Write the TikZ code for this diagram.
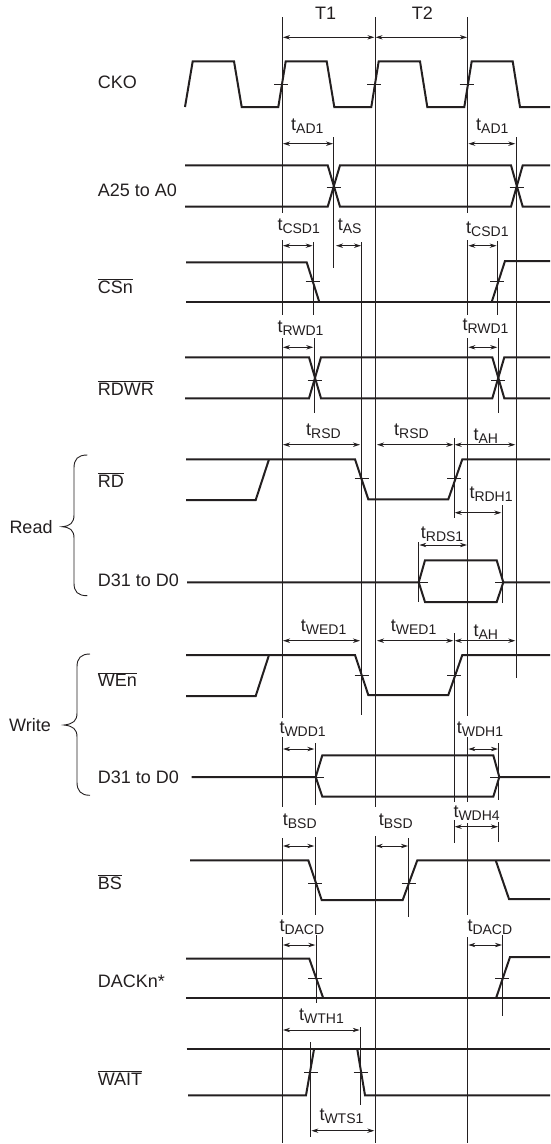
\documentclass[tikz,border=0pt]{standalone}
\usepackage{fontspec}
\setmainfont{Liberation Sans}
\usetikzlibrary{arrows.meta}
\definecolor{waveink}{HTML}{231F20}
\newcommand{\tname}[1]{t\raisebox{-3pt}{\fontsize{14}{14}\selectfont #1}}
\newcommand{\barred}[1]{$\overline{\mbox{#1}}$}
\tikzset{
  wave/.style={draw=waveink, line width=2pt, line join=miter},
  guide/.style={draw=waveink, line width=0.8pt},
  tick/.style={draw=waveink, line width=0.8pt},
  span/.style={draw=waveink, line width=0.8pt, {Stealth[length=7pt,width=4.4pt]}-{Stealth[length=7pt,width=4.4pt]}},
  lbl/.style={anchor=base west, inner sep=0pt, text=waveink, font=\fontsize{18}{20}\selectfont},
}
\begin{document}
\begin{tikzpicture}[x=1pt,y=-1pt]
  \useasboundingbox (0,0) rectangle (550,1144);
  % signal names
  \node[lbl] (cko) at (97.7,88) {CKO};
  \node[lbl] (addr) at (97.7,196) {A25 to A0};
  \node[lbl] (csn) at (97.7,293.5) {\barred{CSn}};
  \node[lbl] (rdwr) at (97.7,395) {\barred{RDWR}};
  \node[lbl] (rd) at (97.7,487) {\barred{RD}};
  \node[lbl] (dread) at (97.7,586.7) {D31 to D0};
  \node[lbl] (wen) at (97.7,686.7) {\barred{WEn}};
  \node[lbl] (dwrite) at (97.7,783) {D31 to D0};
  \node[lbl] (bs) at (97.7,889) {\barred{BS}};
  \node[lbl] (dackn) at (97.7,987) {DACKn*};
  \node[lbl] (waitn) at (97.7,1085) {\barred{WAIT}};
  \node[lbl] (read) at (9.3,533) {Read};
  \node[lbl] (write) at (9,731.7) {Write};
  % braces
  \draw[guide, line width=0.9pt] (87.3,455) .. controls (78,455) and (74,459) .. (74,468) -- (74,515)
    .. controls (74,523) and (70,526) .. (62.3,526.7) .. controls (70,527.5) and (74,530) .. (74,538)
    -- (74,583) .. controls (74,592) and (78,595.7) .. (87.3,595.7);
  \draw[guide, line width=0.9pt] (90,654) .. controls (81,654) and (77,658) .. (77,667) -- (77,713)
    .. controls (77,721) and (73,724) .. (64,725) .. controls (73,726) and (77,729) .. (77,737)
    -- (77,782) .. controls (77,791) and (81,795.3) .. (90,795.3);
  % clock cycles
  \node[lbl] (tone) at (315,19.3) {T1};
  \node[lbl] (ttwo) at (411.7,19.3) {T2};
  \draw[span] (283,37.3) -- (374.4,37.3);
  \draw[span] (375.6,37.3) -- (467,37.3);
  % long guides
  \draw[guide] (282.3,17) -- (282.3,213) (282.3,240) -- (282.3,315) (282.3,338) -- (282.3,718)
    (282.3,737) -- (282.3,807) (282.3,838) -- (282.3,915) (282.3,937) -- (282.3,1143);
  \draw[guide] (375,17) -- (375,807) (375,836) -- (375,1143);
  \draw[guide] (467.7,17) -- (467.7,213) (467.7,240) -- (467.7,315) (467.7,338) -- (467.7,716)
    (467.7,737) -- (467.7,802) (467.7,823) -- (467.7,915) (467.7,937) -- (467.7,1143);
  % short guides
  \draw[guide] (333.7,137) -- (333.7,268) (516,137) -- (516,678);
  \draw[guide] (313.3,242) -- (313.3,315) (497.3,241) -- (497.3,315);
  \draw[guide] (314,338) -- (314,413) (498,338) -- (498,413);
  \draw[guide] (361.7,242) -- (361.7,715);
  \draw[guide] (454,438) -- (454,518) (502,505) -- (502,603) (418.7,542) -- (418.7,602);
  \draw[guide] (454,633) -- (454,802) (454,820) -- (454,843);
  \draw[guide] (315,743) -- (315,805) (498.7,743) -- (498.7,800) (498.7,822) -- (498.7,842);
  \draw[guide] (315,837) -- (315,915) (408.7,838) -- (408.7,917);
  \draw[guide] (316,935) -- (316,1003) (502.7,935) -- (502.7,1016);
  \draw[guide] (360.3,1027) -- (360.3,1105) (310.7,1042) -- (310.7,1137);
  % CKO
  \draw[wave] (185,107) -- (192.7,61.3) -- (234,61.3) -- (241.7,107) -- (278.3,107) -- (285.7,61.3)
    -- (326.7,61.3) -- (334.3,107) -- (371.3,107) -- (378.7,61.3) -- (420,61.3) -- (427.3,107)
    -- (464.3,107) -- (471.7,61.3) -- (512.7,61.3) -- (520,107) -- (550,107);
  \draw[tick] (274.3,84) -- (288.3,84) (367,84) -- (381,84) (459.7,84) -- (473.7,84);
  % A25 to A0
  \node[lbl] (tadone) at (291,130) {\tname{AD1}};
  \node[lbl] (tadtwo) at (476,130) {\tname{AD1}};
  \draw[span] (283,143.7) -- (333,143.7);
  \draw[span] (468.4,143.7) -- (515.3,143.7);
  \draw[wave] (185,165.3) -- (327.7,165.3) -- (340,206.7) -- (511,206.7) -- (522.7,165.3) -- (550,165.3);
  \draw[wave] (185,206.7) -- (327.7,206.7) -- (340,165.3) -- (511,165.3) -- (522.7,206.7) -- (550,206.7);
  \draw[tick] (326.7,187.7) -- (340.7,187.7) (509.7,187.7) -- (523.7,187.7);
  % CSn
  \node[lbl] (tcsdone) at (277.3,230.5) {\tname{CSD1}};
  \node[lbl] (tas) at (337.7,230.5) {\tname{AS}};
  \node[lbl] (tcsdtwo) at (466,233) {\tname{CSD1}};
  \draw[span] (283,245.7) -- (312.6,245.7);
  \draw[span] (336,245.7) -- (361,245.7);
  \draw[span] (468.4,245.7) -- (496.6,245.7);
  \draw[wave] (186,262.3) -- (306.7,262.3) -- (319.3,302);
  \draw[wave] (186,302) -- (550,302);
  \draw[wave] (491.7,302) -- (505,261) -- (550,261);
  \draw[tick] (305.7,281) -- (319.7,281) (490.3,281) -- (504.3,281);
  % RDWR
  \node[lbl] (trwdone) at (277.3,332) {\tname{RWD1}};
  \node[lbl] (trwdtwo) at (462.3,330) {\tname{RWD1}};
  \draw[span] (283,347.3) -- (313.3,347.3);
  \draw[span] (468.4,347.3) -- (497.3,347.3);
  \draw[wave] (185,357.3) -- (309,357.3) -- (321,398.3) -- (492.3,398.3) -- (504.3,357.3) -- (550,357.3);
  \draw[wave] (185,398.3) -- (309,398.3) -- (321,357.3) -- (492.3,357.3) -- (504.3,398.3) -- (550,398.3);
  \draw[tick] (307.7,380.7) -- (321.7,380.7) (491,380.7) -- (505,380.7);
  % RD
  \node[lbl] (trsdone) at (306,435) {\tname{RSD}};
  \node[lbl] (trsdtwo) at (394,435) {\tname{RSD}};
  \node[lbl] (tahone) at (473.3,440) {\tname{AH}};
  \draw[span] (283,444.7) -- (360,444.7);
  \draw[span] (377,444.7) -- (453.3,444.7);
  \draw[span] (454.7,444.7) -- (515.3,444.7);
  \draw[wave] (186,459.3) -- (355,459.3) -- (368.3,499.3) -- (448.3,499.3) -- (462.3,459.3) -- (550,459.3);
  \draw[wave] (186,500) -- (255.7,500) -- (269,459.3);
  \draw[tick] (354.7,478.7) -- (368.7,478.7) (447.3,478.7) -- (461.3,478.7);
  % D31 to D0, read
  \node[lbl] (trdhone) at (469.3,498) {\tname{RDH1}};
  \node[lbl] (trdsone) at (420.7,538) {\tname{RDS1}};
  \draw[span] (454.7,512.7) -- (501.3,512.7);
  \draw[span] (419.4,545) -- (467,545);
  \draw[wave] (187,582.3) -- (418.7,582.3) -- (425,560.3) -- (496.7,560.3) -- (503.3,582.3) -- (550,582.3);
  \draw[wave] (418.7,582.3) -- (425,602) -- (496.7,602) -- (503.3,582.3);
  \draw[tick] (418.7,582.3) -- (428,582.3) (495,582.3) -- (503.3,582.3);
  % WEn
  \node[lbl] (twedone) at (300.7,631.7) {\tname{WED1}};
  \node[lbl] (twedtwo) at (390.7,631.7) {\tname{WED1}};
  \node[lbl] (tahtwo) at (473.3,636.7) {\tname{AH}};
  \draw[span] (283,640.7) -- (360,640.7);
  \draw[span] (377,640.7) -- (453.3,640.7);
  \draw[span] (454.7,640.7) -- (515.3,640.7);
  \draw[wave] (186,655) -- (355,655) -- (368.3,695) -- (448.3,695) -- (462.3,655) -- (550,655);
  \draw[wave] (186,696) -- (255.7,696) -- (269,655);
  \draw[tick] (354.7,675) -- (368.7,675) (447.3,675) -- (461.3,675);
  % D31 to D0, write
  \node[lbl] (twddone) at (279.3,733.3) {\tname{WDD1}};
  \node[lbl] (twdhone) at (456.7,733.3) {\tname{WDH1}};
  \draw[span] (283,749) -- (314.3,749);
  \draw[span] (468.4,749) -- (498,749);
  \draw[wave] (191.7,777) -- (315.7,777) -- (322.3,755.3) -- (493.3,755.3) -- (499.3,777) -- (550,777);
  \draw[wave] (315.7,777) -- (322.3,796.7) -- (493.3,796.7) -- (499.3,777);
  \draw[tick] (315.7,777) -- (324,777) (490,777) -- (499.3,777);
  % BS
  \node[lbl] (twdhfour) at (453.3,817.7) {\tname{WDH4}};
  \node[lbl] (tbsdone) at (282.7,825) {\tname{BSD}};
  \node[lbl] (tbsdtwo) at (378.7,825) {\tname{BSD}};
  \draw[span] (454.7,826.7) -- (498,826.7);
  \draw[span] (283,846) -- (314.3,846);
  \draw[span] (375.7,846) -- (408,846);
  \draw[wave] (190,860.3) -- (308.3,860.3) -- (321.7,900) -- (402.7,900) -- (417.3,860.3) -- (550,860.3);
  \draw[wave] (495.7,860.3) -- (509,899) -- (550,899);
  \draw[tick] (308.3,883) -- (322.3,883) (401.7,883) -- (415.7,883);
  % DACKn
  \node[lbl] (tdacdone) at (279.3,931.7) {\tname{DACD}};
  \node[lbl] (tdacdtwo) at (467.3,931.7) {\tname{DACD}};
  \draw[span] (283,945) -- (315.3,945);
  \draw[span] (468.4,945) -- (502,945);
  \draw[wave] (186,958.7) -- (309.3,958.7) -- (323.3,998.3);
  \draw[wave] (186,998.3) -- (550,998.3);
  \draw[wave] (496,998.3) -- (510,957) -- (550,957);
  \draw[tick] (308.3,978) -- (322.3,978) (495.3,978) -- (509.3,978);
  % WAIT
  \node[lbl] (twthone) at (299,1020) {\tname{WTH1}};
  \node[lbl] (twtsone) at (319.3,1120.7) {\tname{WTS1}};
  \draw[span] (283,1030) -- (359.6,1030);
  \draw[span] (311.4,1130.7) -- (374.3,1130.7);
  \draw[wave] (186.7,1049.3) -- (550,1049.3);
  \draw[wave] (188,1095.3) -- (306,1095.3) -- (314,1049.3);
  \draw[wave] (357.3,1049.3) -- (365,1095.3) -- (550,1095.3);
  \draw[tick] (304,1072.7) -- (318,1072.7) (353.7,1072.7) -- (367.7,1072.7);
\end{tikzpicture}
\end{document}
